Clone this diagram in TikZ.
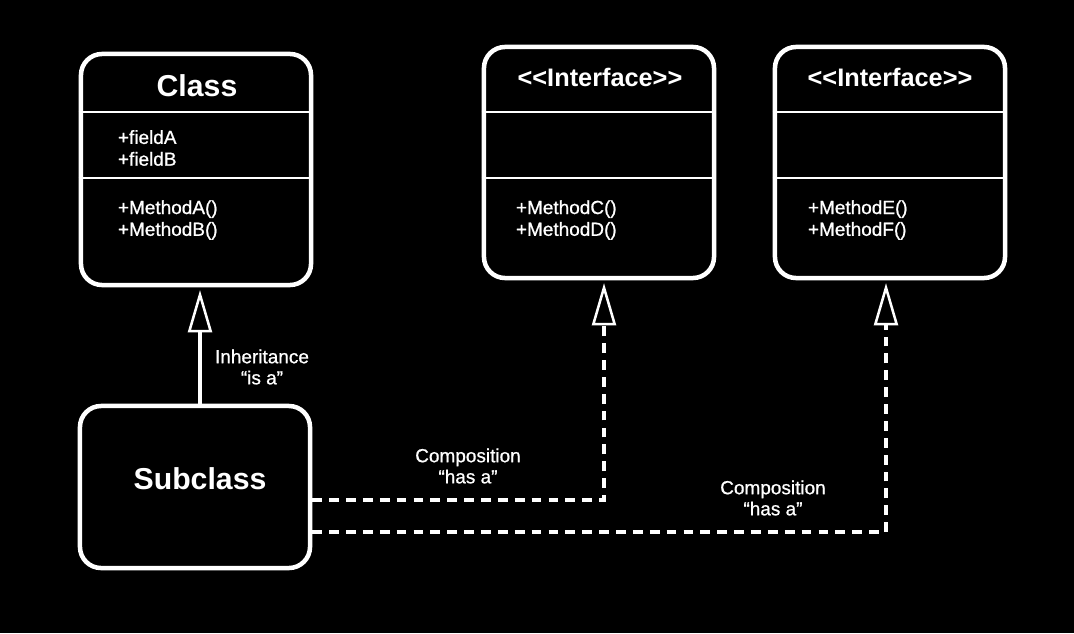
\documentclass[tikz,border=0pt]{standalone}
\usepackage{fontspec}
\setmainfont{Liberation Sans}
\newfontfamily\medfont[FakeBold=0.8]{Liberation Sans}
\usetikzlibrary{arrows.meta,positioning}
\tikzset{
  umlbox/.style={draw=white,line width=3.2pt,rounded corners=15pt,fill=black,minimum width=5.75cm},
  sepline/.style={draw=white,line width=1.5pt},
  title/.style={text=white,font=\bfseries\fontsize{21.5}{24}\selectfont},
  ititle/.style={text=white,font=\bfseries\fontsize{18}{20}\selectfont},
  members/.style={text=white,anchor=west,align=left,font=\medfont\fontsize{13.5}{15.5}\selectfont},
  lbl/.style={text=white,align=center,font=\medfont\fontsize{13.5}{15}\selectfont},
  inherit/.style={draw=white,line width=2.6pt,shorten >=2pt,-{Triangle[open,length=30pt,width=17pt,line width=1.8pt]}},
  realize/.style={inherit,dash pattern=on 7pt off 5pt},
}
\begin{document}
\begin{tikzpicture}[x=0.025cm,y=-0.025cm]
\fill[black] (0,0) rectangle (1074,633);
% class
\node[umlbox,minimum height=5.775cm] (cls) at (196,169.5) {};
\draw[sepline] (cls.west |- 0,112) -- (cls.east |- 0,112);\draw[sepline] (cls.west |- 0,178) -- (cls.east |- 0,178);
\node[title] (clsname) at (197,86) {Class};
\node[members] (clsfields) at (113,148) {+fieldA\\+fieldB};
\node[members] (clsmethods) at (113,220) {+MethodA()\\+MethodB()};
% interfaces
\node[umlbox,minimum height=5.775cm] (iface1) at (599,162.5) {};
\draw[sepline] (iface1.west |- 0,112) -- (iface1.east |- 0,112);\draw[sepline] (iface1.west |- 0,178) -- (iface1.east |- 0,178);
\node[ititle] (iface1name) at (600,77) {{<}{<}Interface{>}{>}};
\node[members] (iface1methods) at (511,220) {+MethodC()\\+MethodD()};
\node[umlbox,minimum height=5.775cm] (iface2) at (890,162.5) {};
\draw[sepline] (iface2.west |- 0,112) -- (iface2.east |- 0,112);\draw[sepline] (iface2.west |- 0,178) -- (iface2.east |- 0,178);
\node[ititle] (iface2name) at (890,77) {{<}{<}Interface{>}{>}};
\node[members] (iface2methods) at (803,220) {+MethodE()\\+MethodF()};
% subclass
\node[umlbox,minimum height=4.05cm] (sub) at (195,487) {};
\node[title] (subname) at (200,479) {Subclass};
% relations
\draw[inherit] (sub.north -| 200,0) -- (cls.south -| 200,0);
\node[lbl] (inhlbl) at (262,367) {Inheritance\\“is a”};
\draw[realize] (sub.east |- 0,500) -| (iface1.south -| 604,0);
\node[lbl] (comp1lbl) at (468,466) {Composition\\“has a”};
\draw[realize] (sub.east |- 0,532) -| (iface2.south -| 886,0);
\node[lbl] (comp2lbl) at (773,498) {Composition\\“has a”};
\end{tikzpicture}
\end{document}
